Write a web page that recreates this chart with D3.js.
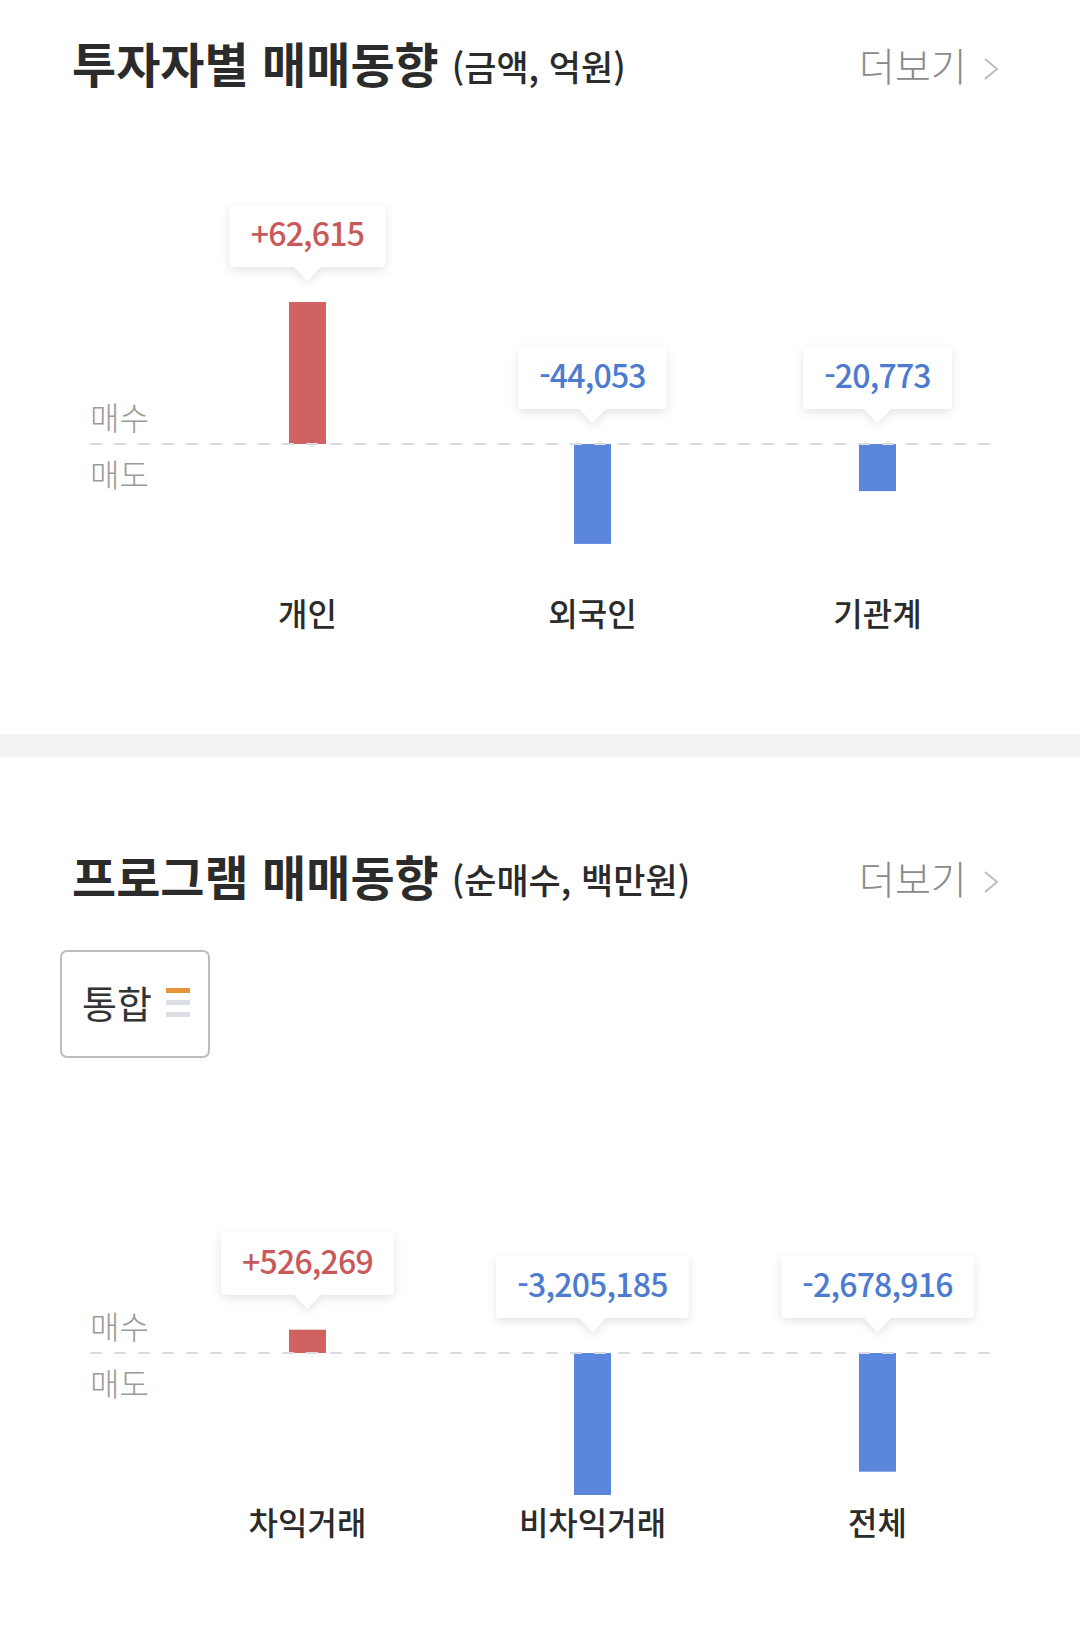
<!DOCTYPE html>
<html lang="ko">
<head>
<meta charset="utf-8">
<script src="https://cdn.jsdelivr.net/npm/d3@7"></script>
<style>
  html, body { margin: 0; padding: 0; background: #fff; }
  svg text { font-family: "Noto Sans CJK KR", "Noto Sans", sans-serif; }
</style>
</head>
<body>
<div id="chart"></div>
<script>
// 투자자별 (금액, 억원)
var investorCategories = ["개인", "외국인", "기관계"];
var investorValues = [62615, -44053, -20773];

// 프로그램 (순매수, 백만원)
var programCategories = ["차익거래", "비차익거래", "전체"];
var programValues = [526269, -3205185, -2678916];

var sideLabels = ["매수", "매도"];

var colors = {
	upBar: "#d16262", downBar: "#5a87dc",
	upText: "#c85a5b", downText: "#4c7bd0",
	title: "#2b2b2b", side: "#9a9a9a", more: "#8a8a8a",
	grid: "#d9dde3", band: "#f1f2f4"
};

var width = 1080, height = 1639;
var formatNum = d3.format(",");

var svg = d3.select("#chart").append("svg")
	.attr("width", width)
	.attr("height", height);

var defs = svg.append("defs");
defs.append("filter")
	.attr("id", "tipShadow")
	.attr("x", "-20%").attr("y", "-40%")
	.attr("width", "140%").attr("height", "190%")
	.append("feDropShadow")
	.attr("dx", 0).attr("dy", 3)
	.attr("stdDeviation", 5)
	.attr("flood-color", "#000")
	.attr("flood-opacity", 0.11);

// section divider
svg.append("rect")
	.attr("x", 0).attr("y", 734)
	.attr("width", width).attr("height", 23)
	.style("fill", colors.band);

function tipPath(x0, y0, x1, y1, cx, r, pw, ph){
	return "M" + (x0 + r) + "," + y0 +
		" H" + (x1 - r) + " Q" + x1 + "," + y0 + " " + x1 + "," + (y0 + r) +
		" V" + (y1 - r) + " Q" + x1 + "," + y1 + " " + (x1 - r) + "," + y1 +
		" H" + (cx + pw) + " L" + cx + "," + (y1 + ph) + " L" + (cx - pw) + "," + y1 +
		" H" + (x0 + r) + " Q" + x0 + "," + y1 + " " + x0 + "," + (y1 - r) +
		" V" + (y0 + r) + " Q" + x0 + "," + y0 + " " + (x0 + r) + "," + y0 + " Z";
}

function drawHeader(top, title, unit){
	var g = svg.append("g").attr("transform", "translate(0," + top + ")");
	var t = g.append("text")
		.attr("x", 72)
		.attr("y", 0)
		.style("font-size", "48px")
		.style("font-weight", 700)
		.style("fill", colors.title)
		.text(title);
	var tw = t.node().getComputedTextLength();
	g.append("text")
		.attr("x", 72 + tw + 13)
		.attr("y", -2)
		.style("font-size", "35px")
		.style("font-weight", 500)
		.style("fill", colors.title)
		.text(unit);

	g.append("text")
		.attr("x", 859)
		.attr("y", -2)
		.style("font-size", "39px")
		.style("font-weight", 300)
		.style("fill", colors.more)
		.text("더보기");
	g.append("path")
		.attr("d", "M985,-24 L997,-14 L985,-4")
		.style("fill", "none")
		.style("stroke", "#bdbdbd")
		.style("stroke-width", 2);
}

function drawSection(baseline, categories, values){
	var maxAbs = d3.max(values, function(d){ return Math.abs(d); });
	var x = d3.scaleBand()
		.domain(categories)
		.range([165, 1020])
		.padding(0);
	var y = d3.scaleLinear()
		.domain([-maxAbs, maxAbs])
		.range([baseline + 142, baseline - 142]);
	var barWidth = 37;

	var g = svg.append("g");

	// 매수 / 매도
	g.append("text")
		.attr("x", 90).attr("y", y(0) - 14)
		.style("font-size", "32px").style("font-weight", 300)
		.style("fill", colors.side)
		.text(sideLabels[0]);
	g.append("text")
		.attr("x", 90).attr("y", y(0) + 43)
		.style("font-size", "32px").style("font-weight", 300)
		.style("fill", colors.side)
		.text(sideLabels[1]);

	var bar = g.selectAll(".bar")
		.data(values)
		.enter().append("g")
		.attr("class", "bar");

	bar.append("rect")
		.attr("x", function(d, i){ return x(categories[i]) + x.bandwidth() / 2 - barWidth / 2; })
		.attr("y", function(d){ return Math.min(y(d), y(0)); })
		.attr("width", barWidth)
		.attr("height", function(d){ return Math.abs(y(d) - y(0)); })
		.style("fill", function(d){ return d >= 0 ? colors.upBar : colors.downBar; });

	// baseline
	g.append("line")
		.attr("x1", 90).attr("x2", 992)
		.attr("y1", y(0)).attr("y2", y(0))
		.style("stroke", colors.grid)
		.style("stroke-width", 2)
		.style("stroke-dasharray", "12 12");

	// value tooltips
	bar.each(function(d, i){
		var cx = x(categories[i]) + x.bandwidth() / 2;
		var tipY = Math.min(y(d), y(0)) - 21;
		var boxBottom = tipY - 14, boxTop = boxBottom - 62;
		var label = (d > 0 ? "+" : "-") + formatNum(Math.abs(d));
		var tg = d3.select(this).append("g");
		var path = tg.append("path")
			.style("fill", "#fff")
			.attr("filter", "url(#tipShadow)");
		var txt = tg.append("text")
			.attr("x", cx)
			.attr("y", (boxTop + boxBottom) / 2 + 10)
			.attr("text-anchor", "middle")
			.style("font-size", "32px")
			.style("font-weight", 500)
			.style("letter-spacing", "-0.8px")
			.style("fill", d >= 0 ? colors.upText : colors.downText)
			.text(label);
		var tw = txt.node().getComputedTextLength();
		var x0 = cx - tw / 2 - 21, x1 = cx + tw / 2 + 21;
		path.attr("d", tipPath(x0, boxTop, x1, boxBottom, cx, 4, 13, 14));
	});

	// category labels
	g.selectAll(".catLabel")
		.data(categories)
		.enter().append("text")
		.attr("class", "catLabel")
		.attr("x", function(d){ return x(d) + x.bandwidth() / 2; })
		.attr("y", y(0) + 182)
		.attr("text-anchor", "middle")
		.style("font-size", "32px")
		.style("font-weight", 500)
		.style("fill", colors.title)
		.text(function(d){ return d; });
}

drawHeader(83, "투자자별 매매동향", "(금액, 억원)");
drawSection(444, investorCategories, investorValues);

drawHeader(896, "프로그램 매매동향", "(순매수, 백만원)");

// 통합 button
var btn = svg.append("g");
btn.append("rect")
	.attr("x", 61).attr("y", 951)
	.attr("width", 148).attr("height", 106)
	.attr("rx", 6)
	.style("fill", "#fff")
	.style("stroke", "#bdbdbd")
	.style("stroke-width", 2);
btn.append("text")
	.attr("x", 82).attr("y", 1018)
	.style("font-size", "38px")
	.style("font-weight", 400)
	.style("fill", "#333")
	.text("통합");
var iconColors = ["#e8923a", "#dcdfe3", "#dcdfe3"];
btn.selectAll(".icon")
	.data(iconColors)
	.enter().append("rect")
	.attr("x", 166)
	.attr("y", function(d, i){ return 988 + i * 12; })
	.attr("width", 24).attr("height", 5)
	.style("fill", function(d){ return d; });

drawSection(1353, programCategories, programValues);
</script>
</body>
</html>
